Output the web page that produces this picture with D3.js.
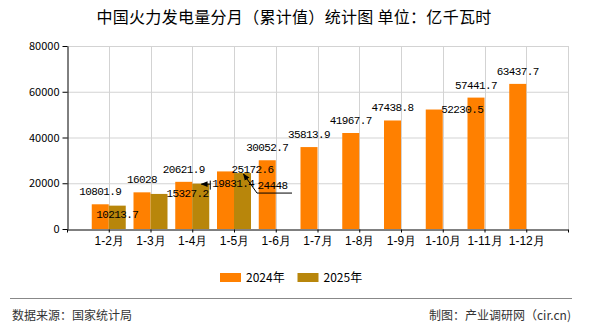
<!DOCTYPE html>
<html><head><meta charset="utf-8">
<script src="https://cdn.jsdelivr.net/npm/d3@7"></script>
<style>
html,body{margin:0;padding:0;background:#fff;}
svg{display:block;font-family:"Noto Sans CJK SC",sans-serif;}
</style></head>
<body>
<svg id="c" width="590" height="330"></svg>
<script>
const categories = ["1-2月","1-3月","1-4月","1-5月","1-6月","1-7月","1-8月","1-9月","1-10月","1-11月","1-12月"];
const series2024 = [10801.9,16028,20621.9,25172.6,30052.7,35813.9,41967.7,47438.8,52230.5,57441.7,63437.7];
const series2025 = [10213.7,15327.2,19831.4,24448,null,null,null,null,null,null,null];
const yTicks = [0,20000,40000,60000,80000];
const seriesNames = ["2024年","2025年"];
const colors = ["#FF8000","#B8860B"];

// label placement adjustments (dx, baseline offset from bar top)
const adj2024 = {3:{dx:27,dy:2}, 8:{dx:28,dy:3}};
const adj2025 = {0:{dx:0,dy:12}, 1:{dx:28.5,dy:3}, 2:{dx:32.5,dy:3}, 3:{dx:30,dy:16}};

const svg = d3.select("#c");
const L=67, R=568, T=46, B=229;
const slots = ["_s"].concat(categories).concat(["_e"]);
const x = d3.scalePoint().domain(slots).range([L,R]);
const y = d3.scaleLinear().domain([0,80000]).range([B,T]);
const bw = 17;

// title
svg.append("text").attr("x",294).attr("y",23).attr("text-anchor","middle")
  .attr("font-size",16).attr("letter-spacing",0.3).attr("fill","#000").text("中国火力发电量分月（累计值）统计图 单位：亿千瓦时");

// grid
const g = svg.append("g");
g.selectAll(".hg").data(yTicks.filter(d=>d>0)).join("line")
  .attr("x1",L).attr("x2",R).attr("y1",d=>y(d)+0.5).attr("y2",d=>y(d)+0.5)
  .attr("stroke","#d3d3d3").attr("stroke-width",1);
g.selectAll(".vg").data(slots.slice(1)).join("line")
  .attr("x1",d=>Math.round(x(d))+0.5).attr("x2",d=>Math.round(x(d))+0.5).attr("y1",T).attr("y2",B)
  .attr("stroke","#d3d3d3").attr("stroke-width",1);

// bars
const bars = svg.append("g");
bars.selectAll(".b24").data(categories).join("rect")
  .attr("x",d=>x(d)-bw).attr("width",bw)
  .attr("y",(d,i)=>y(series2024[i])).attr("height",(d,i)=>B-y(series2024[i]))
  .attr("fill",colors[0]);
bars.selectAll(".b25").data(categories.filter((d,i)=>series2025[i]!=null)).join("rect")
  .attr("x",d=>x(d)).attr("width",bw)
  .attr("y",(d,i)=>y(series2025[i])).attr("height",(d,i)=>B-y(series2025[i]))
  .attr("fill",colors[1]);

// y axis
const yAxis = svg.append("g").attr("transform",`translate(${L+0.5},0)`)
  .call(d3.axisLeft(y).tickValues(yTicks).tickSize(5).tickSizeOuter(0).tickFormat(d3.format("d")));
yAxis.select(".domain").attr("stroke","#000");
yAxis.selectAll(".tick line").attr("stroke","#000");
yAxis.selectAll("text").attr("font-family","Noto Sans CJK SC").attr("font-size",11).attr("fill","#000").attr("x",-8);

// x axis
const xAxis = svg.append("g").attr("transform",`translate(0,${B+0.5})`)
  .call(d3.axisBottom(x).tickSize(3).tickSizeOuter(0).tickFormat(d=>d.startsWith("_")?"":d));
xAxis.select(".domain").attr("stroke","#000");
xAxis.selectAll(".tick line").attr("stroke","#000");
xAxis.selectAll("text").attr("font-size",12).attr("fill","#000").attr("dy","0.95em").attr("y",4);

// value labels
const lab = svg.append("g").attr("font-family","Liberation Mono, DejaVu Sans Mono, monospace")
  .attr("font-size",11).attr("letter-spacing",-0.6).attr("fill","#000").attr("text-anchor","middle");
categories.forEach((c,i)=>{
  const a = adj2024[i] || {dx:0,dy:-9};
  lab.append("text").attr("x",x(c)-bw/2+a.dx).attr("y",y(series2024[i])+a.dy).text(series2024[i]);
  if(series2025[i]!=null){
    const b = adj2025[i] || {dx:0,dy:-9};
    lab.append("text").attr("x",x(c)+bw/2+b.dx).attr("y",y(series2025[i])+b.dy).text(series2025[i]);
  }
});

// leader lines for crowded labels
const defs = svg.append("defs");
defs.append("marker").attr("id","arr").attr("viewBox","0 0 10 10").attr("refX",9).attr("refY",5)
  .attr("markerWidth",7).attr("markerHeight",7).attr("orient","auto-start-reverse")
  .append("path").attr("d","M0,1 L10,5 L0,9 Z").attr("fill","#000");
{
  const c = categories[2], yy = y(series2025[2]);
  const x0 = x(c)+bw+1;
  svg.append("line").attr("x1",x0).attr("x2",x0).attr("y1",yy-3).attr("y2",yy+6).attr("stroke","#000");
  svg.append("line").attr("x1",x0).attr("y1",yy+0.5).attr("x2",x(c)+bw-8).attr("y2",yy+0.5)
    .attr("stroke","#000").attr("marker-end","url(#arr)");
}
{
  const c = categories[3], yy = y(series2025[3]);
  const xs = x(c)+bw+6, ys = yy+20;
  svg.append("line").attr("x1",xs).attr("y1",ys).attr("x2",xs+35).attr("y2",ys).attr("stroke","#000");
  svg.append("line").attr("x1",xs).attr("y1",ys).attr("x2",x(c)+bw/2+1).attr("y2",yy+1)
    .attr("stroke","#000").attr("marker-end","url(#arr)");
}

// legend
const lg = svg.append("g");
seriesNames.forEach((n,i)=>{
  const lx = 220 + i*77.5;
  lg.append("rect").attr("x",lx).attr("y",273).attr("width",21).attr("height",9).attr("fill",colors[i]);
  lg.append("text").attr("x",lx+26).attr("y",282).attr("font-size",12).attr("fill","#000").text(n);
});

// footer
svg.append("line").attr("x1",10).attr("x2",572).attr("y1",298.5).attr("y2",298.5).attr("stroke","#888");
svg.append("text").attr("x",12).attr("y",320).attr("font-size",12).attr("fill","#333").text("数据来源：国家统计局");
svg.append("text").attr("x",571).attr("y",320).attr("text-anchor","end").attr("font-size",12).attr("fill","#333").text("制图：产业调研网（cir.cn)");
</script>
</body></html>
